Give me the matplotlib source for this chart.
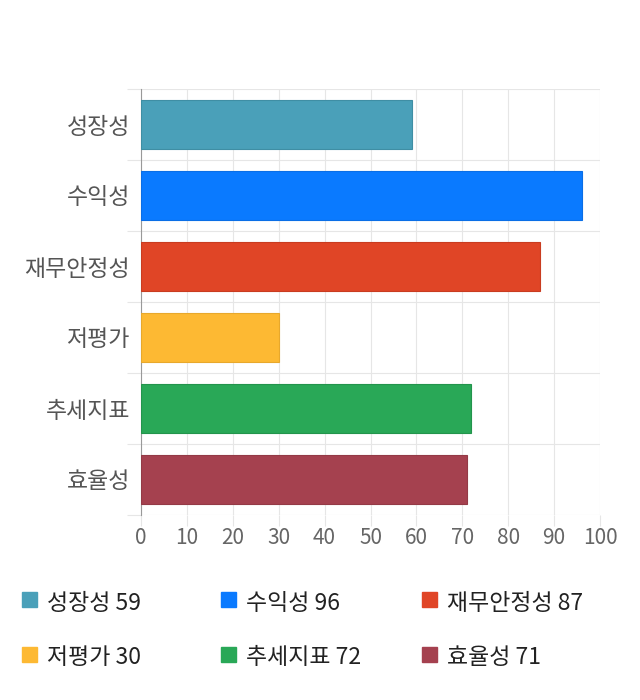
import matplotlib
matplotlib.use("Agg")
import matplotlib.pyplot as plt
from matplotlib.patches import Rectangle

plt.rcParams['font.family'] = ['Noto Sans CJK KR', 'DejaVu Sans']

categories = ['성장성', '수익성', '재무안정성', '저평가', '추세지표', '효율성']
values = [59, 96, 87, 30, 72, 71]
colors = ['#4aa0b9', '#0a7aff', '#e04526', '#fdb933', '#29a857', '#a5414f']
edge_colors = ['#3f8ea4', '#0a6ee6', '#c93c20', '#e8a82c', '#23944c', '#933a46']
x_ticks = list(range(0, 101, 10))

fig = plt.figure(figsize=(6.4, 7.0), dpi=100)
ax = fig.add_axes([141 / 640, 1 - 515 / 700, 459 / 640, 426 / 700])

pos = list(range(len(categories)))
ax.barh(pos, values, height=0.7, color=colors, edgecolor=edge_colors, linewidth=0.8, zorder=3)
ax.set_ylim(len(categories) - 0.5, -0.5)
ax.set_xlim(0, 100)

ax.set_xticks(x_ticks)
ax.set_xticklabels([str(t) for t in x_ticks], fontsize=15, color='#666666')
ax.set_yticks(pos)
ax.set_yticklabels(categories, fontsize=16.5, color='#555555')
ax.set_yticks([p + 0.5 for p in pos[:-1]] + [-0.5, len(categories) - 0.5], minor=True)

ax.grid(axis='x', color='#e6e6e6', linewidth=0.8, zorder=0)
ax.grid(axis='y', which='minor', color='#e6e6e6', linewidth=0.8, zorder=0)
ax.tick_params(axis='y', which='major', length=0, pad=8)
ax.tick_params(axis='y', which='minor', length=10, color='#e6e6e6', width=0.8)
ax.tick_params(axis='x', length=8, color='#e6e6e6', width=0.8, pad=1)

for s in ['top', 'right', 'bottom']:
    ax.spines[s].set_visible(False)
ax.spines['left'].set_color('#999999')
ax.spines['left'].set_linewidth(0.8)

# legend
col_x = [22, 221, 422]
row_y = [600, 655]
for i, (cat, val, c) in enumerate(zip(categories, values, colors)):
    x = col_x[i % 3]
    y = row_y[i // 3]
    fig.patches.append(Rectangle((x / 640, 1 - (y + 7) / 700), 15 / 640, 15 / 700,
                                 transform=fig.transFigure, color=c))
    fig.text((x + 25) / 640, 1 - (y + 3) / 700, f'{cat} {val}', fontsize=16.5,
             color='#222222', va='center', ha='left')

fig.savefig('out.png', dpi=100)
